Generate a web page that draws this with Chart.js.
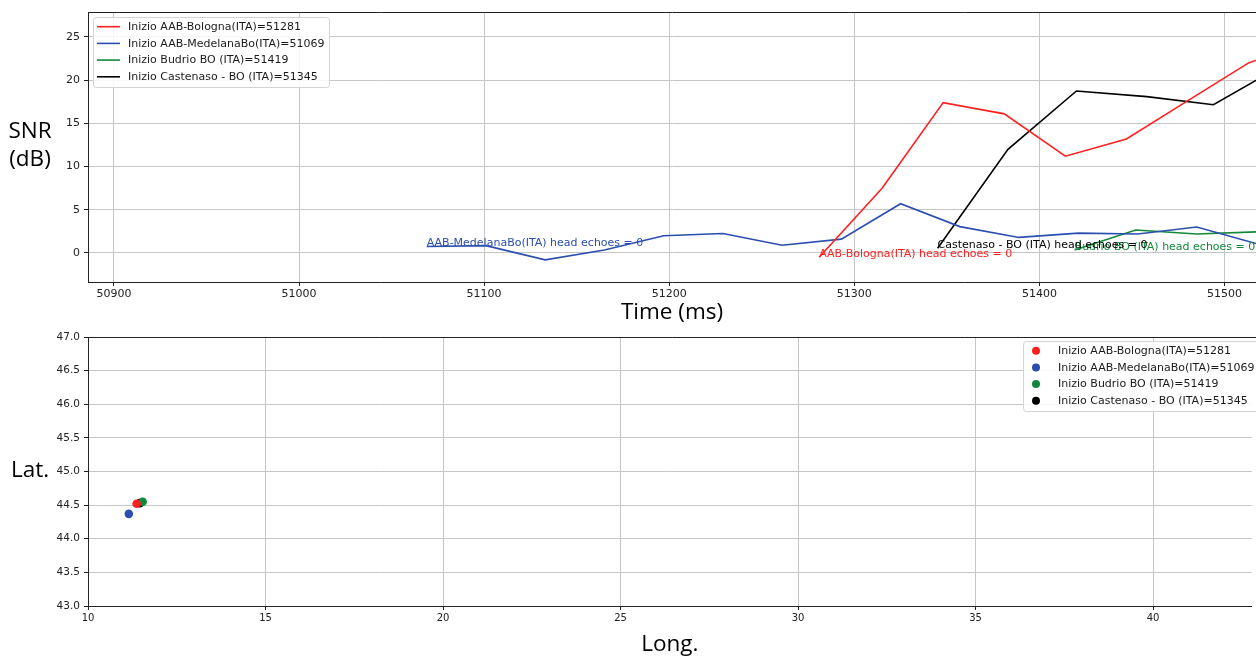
<!DOCTYPE html>
<html><head><meta charset="utf-8">
<script src="https://cdn.jsdelivr.net/npm/chart.js@4/dist/chart.umd.min.js"></script>
<style>
html,body{margin:0;padding:0;background:#fff;overflow:hidden;width:1256px;height:656px;position:relative}
#w1{position:absolute;left:0;top:0;width:1256px;height:330px}
#w2{position:absolute;left:0;top:330px;width:1256px;height:340px}
canvas{display:block}
</style></head><body>
<div id="w1"><canvas id="c1" width="1256" height="330"></canvas></div>
<div id="w2"><canvas id="c2" width="1256" height="340"></canvas></div>
<script>
// ---- data ----
const stationNames = ['AAB-Bologna(ITA)', 'AAB-MedelanaBo(ITA)', 'Budrio BO (ITA)', 'Castenaso - BO (ITA)'];
const stationColors = ['#ff1f1f', '#2b4fae', '#12893a', '#000000'];
const headEchoes = [0, 0, 0, 0];

const bolognaTime = [51281, 51315, 51348, 51381, 51414, 51447, 51480, 51513, 51546];
const bolognaSNR  = [-0.5, 7.5, 17.4, 16.1, 11.2, 13.2, 17.6, 22.0, 24.5];

const medelanaTime = [51069, 51101, 51133, 51165, 51197, 51229, 51261, 51293, 51325, 51357, 51389, 51421, 51453, 51485, 51517];
const medelanaSNR  = [0.75, 0.85, -0.8, 0.35, 2.0, 2.25, 0.9, 1.6, 5.7, 3.05, 1.8, 2.3, 2.2, 3.0, 1.1];

const budrioTime = [51419, 51452, 51485, 51518];
const budrioSNR  = [0.35, 2.65, 2.2, 2.45];

const castenasoTime = [51345, 51383, 51420, 51458, 51494, 51531];
const castenasoSNR  = [0.55, 12.0, 18.75, 18.1, 17.15, 21.7];

const stationLong = [11.37, 11.15, 11.54, 11.46];
const stationLat  = [44.52, 44.37, 44.55, 44.53];

const timeTicks = [50900, 51000, 51100, 51200, 51300, 51400, 51500];
const snrTicks  = [0, 5, 10, 15, 20, 25];
const longTicks = [10, 15, 20, 25, 30, 35, 40];
const latTicks  = [43.0, 43.5, 44.0, 44.5, 45.0, 45.5, 46.0, 46.5, 47.0];

const seriesTime = [bolognaTime, medelanaTime, budrioTime, castenasoTime];
const seriesSNR  = [bolognaSNR, medelanaSNR, budrioSNR, castenasoSNR];

// ---- styles ----
const GRID = '#c6c6c6';
const INK = '#222222';
const TICKFONT = {family: 'DejaVu Sans', size: 11};
const TITLEFONT = {family: 'Open Sans', size: 22.5};

function legendLabel(i){ return 'Inizio ' + stationNames[i] + '=' + seriesTime[i][0]; }

function drawLegendBox(ctx, x, y, w, h){
  ctx.save();
  ctx.beginPath();
  const r = 3;
  ctx.moveTo(x + r, y); ctx.lineTo(x + w - r, y); ctx.quadraticCurveTo(x + w, y, x + w, y + r);
  ctx.lineTo(x + w, y + h - r); ctx.quadraticCurveTo(x + w, y + h, x + w - r, y + h);
  ctx.lineTo(x + r, y + h); ctx.quadraticCurveTo(x, y + h, x, y + h - r);
  ctx.lineTo(x, y + r); ctx.quadraticCurveTo(x, y, x + r, y);
  ctx.closePath();
  ctx.fillStyle = 'rgba(255,255,255,0.85)';
  ctx.fill();
  ctx.strokeStyle = '#d4d4d4';
  ctx.lineWidth = 1;
  ctx.stroke();
  ctx.restore();
}

function drawFrameTop(chart){
  const {ctx, chartArea} = chart;
  ctx.save();
  ctx.strokeStyle = INK; ctx.lineWidth = 1;
  ctx.beginPath();
  ctx.moveTo(chartArea.left, Math.round(chartArea.top) + 0.5);
  ctx.lineTo(chartArea.right + 5, Math.round(chartArea.top) + 0.5);
  ctx.stroke();
  ctx.restore();
}

function fixY(width){
  return s => { s.width = width; s.paddingTop = 0; s.paddingBottom = 0; };
}

const topPlugin = {
  id: 'topDecor',
  afterDatasetsDraw(chart){
    const {ctx} = chart;
    const xs = chart.scales.x, ys = chart.scales.y;
    ctx.save();
    ctx.font = '11px "DejaVu Sans"';
    ctx.textAlign = 'left';
    ctx.textBaseline = 'alphabetic';
    for (let i = 0; i < stationNames.length; i++){
      const px = xs.getPixelForValue(seriesTime[i][0]);
      const py = ys.getPixelForValue(seriesSNR[i][0]);
      ctx.fillStyle = stationColors[i];
      ctx.fillText(stationNames[i] + ' head echoes = ' + headEchoes[i], px, py);
    }
    ctx.restore();
  },
  afterDraw(chart){
    const {ctx} = chart;
    drawFrameTop(chart);
    ctx.save();
    ctx.font = '22.5px "Open Sans"';
    ctx.fillStyle = '#000';
    ctx.textAlign = 'center';
    ctx.textBaseline = 'alphabetic';
    ctx.fillText('SNR', 30, 138);
    ctx.fillText('(dB)', 30, 166);
    drawLegendBox(ctx, 93.5, 17.5, 236, 70);
    ctx.font = '11px "DejaVu Sans"';
    ctx.textAlign = 'left';
    ctx.textBaseline = 'middle';
    for (let i = 0; i < stationNames.length; i++){
      const yy = 26.7 + i * 16.7;
      ctx.strokeStyle = stationColors[i];
      ctx.lineWidth = 1.6;
      ctx.beginPath(); ctx.moveTo(97, yy); ctx.lineTo(120, yy); ctx.stroke();
      ctx.fillStyle = '#1a1a1a';
      ctx.fillText(legendLabel(i), 128, yy + 0.5);
    }
    ctx.restore();
  }
};

const bottomPlugin = {
  id: 'bottomDecor',
  afterDraw(chart){
    const {ctx} = chart;
    drawFrameTop(chart);
    ctx.save();
    ctx.font = '22.5px "Open Sans"';
    ctx.fillStyle = '#000';
    ctx.textAlign = 'center';
    ctx.textBaseline = 'alphabetic';
    ctx.fillText('Lat.', 30, 147);
    drawLegendBox(ctx, 1023.5, 11.5, 245, 70);
    ctx.font = '11px "DejaVu Sans"';
    ctx.textAlign = 'left';
    ctx.textBaseline = 'middle';
    for (let i = 0; i < stationNames.length; i++){
      const yy = 20.7 + i * 16.7;
      ctx.fillStyle = stationColors[i];
      ctx.beginPath(); ctx.arc(1036, yy, 4, 0, Math.PI * 2); ctx.fill();
      ctx.fillStyle = '#1a1a1a';
      ctx.fillText(legendLabel(i), 1058, yy + 0.5);
    }
    ctx.restore();
  }
};

Chart.defaults.font.family = 'DejaVu Sans';
Chart.defaults.animation = false;

new Chart(document.getElementById('c1'), {
  type: 'line',
  data: {
    datasets: stationNames.map((n, i) => ({
      label: legendLabel(i),
      data: seriesTime[i].map((t, k) => ({x: t, y: seriesSNR[i][k]})),
      borderColor: stationColors[i],
      backgroundColor: stationColors[i],
      borderWidth: 1.6,
      pointRadius: 0,
      tension: 0,
      fill: false
    }))
  },
  options: {
    responsive: false,
    devicePixelRatio: 1,
    animation: false,
    layout: {padding: {top: 12, left: 0, right: 0, bottom: 0}},
    plugins: {legend: {display: false}, tooltip: {enabled: false}},
    scales: {
      x: {
        type: 'linear', min: 50886, max: 51517,
        afterBuildTicks: s => { s.ticks = timeTicks.map(v => ({value: v})); },
        afterFit: s => { s.height = 48; },
        ticks: {font: TICKFONT, color: INK, padding: 2, maxRotation: 0, autoSkip: false, callback: v => String(v)},
        grid: {color: GRID, lineWidth: 1, tickColor: INK, tickLength: 4, drawTicks: true},
        border: {display: true, color: INK, width: 1},
        title: {display: true, text: 'Time (ms)', font: TITLEFONT, color: '#000', padding: {top: 0, bottom: 4}}
      },
      y: {
        type: 'linear', min: -3.36, max: 27.89,
        afterBuildTicks: s => { s.ticks = snrTicks.map(v => ({value: v})); },
        afterFit: fixY(88),
        ticks: {font: TICKFONT, color: INK, padding: 4, autoSkip: false, callback: v => String(v)},
        grid: {color: GRID, lineWidth: 1, tickColor: INK, tickLength: 4, drawTicks: true},
        border: {display: true, color: INK, width: 1}
      }
    }
  },
  plugins: [topPlugin]
});

new Chart(document.getElementById('c2'), {
  type: 'scatter',
  data: {
    datasets: stationNames.map((n, i) => ({
      label: legendLabel(i),
      data: [{x: stationLong[i], y: stationLat[i]}],
      backgroundColor: stationColors[i],
      borderColor: stationColors[i],
      borderWidth: 0,
      pointRadius: 4.3
    }))
  },
  options: {
    responsive: false,
    devicePixelRatio: 1,
    animation: false,
    layout: {padding: {top: 7, left: 0, right: 0, bottom: 0}},
    plugins: {legend: {display: false}, tooltip: {enabled: false}},
    scales: {
      x: {
        type: 'linear', min: 10, max: 42.78,
        afterBuildTicks: s => { s.ticks = longTicks.map(v => ({value: v})); },
        afterFit: s => { s.height = 64; },
        ticks: {font: {family: 'DejaVu Sans', size: 10}, color: INK, padding: 2, maxRotation: 0, autoSkip: false, callback: v => String(v)},
        grid: {color: GRID, lineWidth: 1, tickColor: INK, tickLength: 4, drawTicks: true},
        border: {display: true, color: INK, width: 1},
        title: {display: true, text: 'Long.', font: TITLEFONT, color: '#000', padding: {top: 0, bottom: 11.5}}
      },
      y: {
        type: 'linear', min: 43, max: 47,
        afterBuildTicks: s => { s.ticks = latTicks.map(v => ({value: v})); },
        afterFit: fixY(88),
        ticks: {font: {family: 'DejaVu Sans', size: 10.5}, color: INK, padding: 4, autoSkip: false, callback: v => Number(v).toFixed(1)},
        grid: {color: GRID, lineWidth: 1, tickColor: INK, tickLength: 4, drawTicks: true},
        border: {display: true, color: INK, width: 1}
      }
    }
  },
  plugins: [bottomPlugin]
});
</script>
</body></html>
